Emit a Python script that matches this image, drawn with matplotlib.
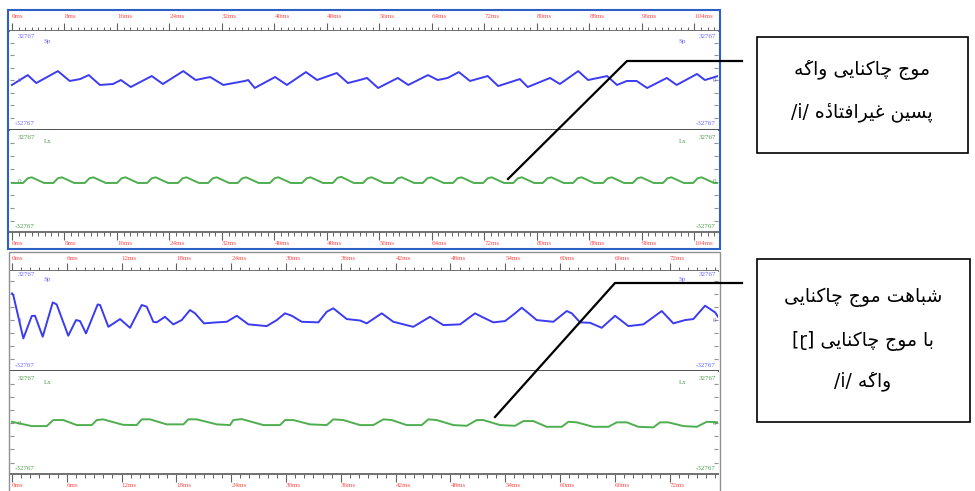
import matplotlib
matplotlib.use('Agg')
import matplotlib.pyplot as plt
from matplotlib import font_manager, ft2font
from matplotlib.patches import Rectangle
from matplotlib.transforms import blended_transform_factory

# ---- data ----
# top recording: 0..~107 ms
top_sp_t = [0.0, 2.4, 3.7, 7.0, 8.8, 10.4, 11.7, 13.4, 15.4, 16.6, 18.1, 21.3, 23.0, 26.1,
            28.0, 30.2, 32.2, 35.5, 36.0, 37.0, 40.1, 41.9, 44.8, 46.5, 49.5, 51.2, 53.0,
            54.1, 55.8, 58.8, 60.4, 63.4, 64.9, 66.4, 68.1, 69.8, 72.5, 74.1, 77.4, 78.6,
            82.0, 83.5, 86.3, 87.8, 90.7, 92.2, 93.7, 95.2, 96.8, 99.8, 101.3, 104.4, 105.6, 107.6]
top_sp_v = [-3600, 3600, -2200, 6500, -700, 700, 3600, -3600, -2900, 0, -5100, 2900, -2900, 6500,
            0, 2200, -3600, -700, 0, -5800, 2200, -3600, 5800, 0, 5100, -2200, 0,
            1500, -5800, 1500, -3600, 3600, 0, 1500, 5800, -700, 2900, -4400, 700, -5100,
            1500, -2900, 6500, 0, 2900, -3600, -700, -700, -5800, 1500, -3600, 4400, 0, 2900]

top_lx_t = [0.0,
            1.7, 2.4, 3.0, 4.9, 6.3, 7.0, 7.6, 9.5, 11.1, 11.8, 12.4, 14.3,
            16.0, 16.7, 17.3, 19.2, 20.6, 21.3, 21.9, 23.8, 25.3, 26.0, 26.6, 28.5,
            29.9, 30.6, 31.2, 33.1, 34.4, 35.1, 35.7, 37.6, 39.3, 40.0, 40.6, 42.5,
            44.2, 44.9, 45.5, 47.4, 48.9, 49.6, 50.2, 52.1, 53.5, 54.2, 54.8, 56.7,
            58.1, 58.8, 59.4, 61.3, 62.6, 63.3, 63.9, 65.8, 67.2, 67.9, 68.5, 70.4,
            71.8, 72.5, 73.1, 75.0, 76.4, 77.1, 77.7, 79.6, 80.9, 81.6, 82.2, 84.1,
            85.5, 86.2, 86.8, 88.7, 90.1, 90.8, 91.4, 93.3, 94.6, 95.3, 95.9, 97.8,
            99.2, 99.9, 100.5, 102.4, 103.8, 104.5, 105.1, 107.0,
            107.6]
top_lx_v = [-700,
            -700, 2600, 3300, -700, -700, 2600, 3300, -700, -700, 2600, 3300, -700,
            -700, 2600, 3300, -700, -700, 2600, 3300, -700, -700, 2600, 3300, -700,
            -700, 2600, 3300, -700, -700, 2600, 3300, -700, -700, 2600, 3300, -700,
            -700, 2600, 3300, -700, -700, 2900, 3600, -700, -700, 2600, 3300, -700,
            -700, 2600, 3300, -700, -700, 2600, 3300, -700, -700, 2600, 3300, -700,
            -700, 2600, 3300, -700, -700, 2600, 3300, -700, -700, 2600, 3300, -700,
            -700, 2600, 3300, -700, -700, 2600, 3300, -700, -700, 2600, 3300, -700,
            -700, 2600, 3300, -700, -700, 2600, 3300, -700,
            -700]

# bottom recording: 0..~77 ms
bot_sp_t = [0.0, 0.14, 0.69, 1.24, 2.16, 2.52, 3.36, 4.46, 4.89, 6.16, 7.01, 7.45, 8.10,
            9.38, 9.64, 10.55, 11.83, 12.92, 14.20, 14.75, 15.47, 15.84, 16.75, 17.66,
            18.58, 19.49, 20.04, 21.02, 22.42, 23.51, 24.61, 25.88, 27.89, 28.99, 29.89,
            30.63, 31.72, 33.54, 34.46, 35.18, 36.65, 38.11, 38.84, 40.48, 41.75, 43.94,
            45.77, 47.23, 49.06, 50.70, 51.43, 52.70, 53.98, 55.08, 55.81, 56.36, 57.45,
            59.27, 60.74, 61.29, 62.20, 63.29, 64.57, 66.03, 67.49, 69.13, 71.14, 72.41,
            73.69, 74.60, 75.88, 76.98, 77.3]
bot_sp_v = [18600, 17400, 2300, -12800, 2800, 3000, -11600, 12300, 10900, -10900, 0, -700, -9300,
            10900, 10500, -4700, 700, -5400, 10500, 9300, -1200, -1600, 2300, -3000,
            0, 7000, 4700, -2300, -1600, -1200, 3000, -3000, -4200, 0, 4700,
            3000, -1200, -1600, 5800, 8200, 700, -300, -2300, 4700, -1200, -4700,
            2300, -3500, -3000, 4700, 2300, -1600, -700, 4700, 8600, 5800, 0,
            -1200, 6300, 4700, -1600, -1900, -5400, 3000, -4200, -3000, 6300, -2300,
            0, 700, 10000, 5400, 2300]

bot_lx_t = [0.0, 2.16, 3.80, 4.52, 5.62, 7.08, 8.73, 9.27, 9.96, 12.15, 13.65, 14.20, 15.11,
            16.94, 18.76, 19.30, 20.22, 22.42, 23.87, 24.23, 25.15, 27.52, 29.35, 29.89,
            30.80, 32.63, 34.46, 35.18, 36.28, 38.11, 39.56, 40.66, 41.58, 43.22, 44.86,
            45.58, 46.50, 48.32, 49.79, 50.88, 51.61, 53.44, 55.08, 55.99, 57.08, 58.55,
            60.19, 60.92, 61.84, 63.65, 65.30, 66.22, 67.31, 68.58, 70.22, 70.96, 71.87,
            73.51, 74.98, 76.07, 77.3]
bot_lx_v = [1100, -1900, -1900, 2300, 2300, -1200, -1200, 2300, 2800, -1000, -1200, 2800, 2800,
            -700, -700, 2800, 2800, -700, -1200, 2300, 3000, -1200, -1200, 2300,
            2300, -700, -1200, 2800, 2300, -1200, -1200, 2800, 2300, -1200, -1200,
            2800, 2300, -1200, -1700, 2300, 2300, -1200, -1700, 1600, 1600, -2400,
            -2400, 1100, 700, -2400, -2400, 700, 700, -2400, -2800, 700, 700,
            -1900, -2400, 1100, 700]

top_ticks = list(range(0, 105, 8))
bot_ticks = list(range(0, 73, 6))

box1_lines = ['موج چاکنایی واکهٔ', 'پسین غیرافتادهٔ /i/']
box2_lines = ['شباهت موج چاکنایی', 'با موج چاکنایی [ɽ]', 'واکهٔ /i/']

FULL = 32767
BLUE = '#3b3bf2'
GREEN = '#4fae4f'
RED = '#ff4a4a'

# ---- simple Persian shaping (matplotlib has no complex text layout) ----
FORMS = {
    'ا': (0xFE8D, 0xFE8E, None, None), 'ب': (0xFE8F, 0xFE90, 0xFE91, 0xFE92),
    'پ': (0xFB56, 0xFB57, 0xFB58, 0xFB59), 'ت': (0xFE95, 0xFE96, 0xFE97, 0xFE98),
    'ج': (0xFE9D, 0xFE9E, 0xFE9F, 0xFEA0), 'چ': (0xFB7A, 0xFB7B, 0xFB7C, 0xFB7D),
    'د': (0xFEA9, 0xFEAA, None, None), 'ر': (0xFEAD, 0xFEAE, None, None),
    'س': (0xFEB1, 0xFEB2, 0xFEB3, 0xFEB4), 'ش': (0xFEB5, 0xFEB6, 0xFEB7, 0xFEB8),
    'غ': (0xFECD, 0xFECE, 0xFECF, 0xFED0), 'ف': (0xFED1, 0xFED2, 0xFED3, 0xFED4),
    'ک': (0xFB8E, 0xFB8F, 0xFB90, 0xFB91), 'م': (0xFEE1, 0xFEE2, 0xFEE3, 0xFEE4),
    'ن': (0xFEE5, 0xFEE6, 0xFEE7, 0xFEE8), 'ه': (0xFEE9, 0xFEEA, 0xFEEB, 0xFEEC),
    'و': (0xFEED, 0xFEEE, None, None), 'ی': (0xFBFC, 0xFBFD, 0xFBFE, 0xFBFF),
}
MARKS = {'\u0654'}

cmap = ft2font.FT2Font(font_manager.findfont('DejaVu Sans')).get_charmap()
HEH_HAMZA = {0xFEE9: 0xFBA4, 0xFEEA: 0xFBA5}


def shape_word(word):
    chars = list(word)
    clusters = []
    for i, c in enumerate(chars):
        if c in MARKS:
            continue
        if c not in FORMS:
            clusters.append([c])
            continue
        j = i - 1
        while j >= 0 and chars[j] in MARKS:
            j -= 1
        k = i + 1
        while k < len(chars) and chars[k] in MARKS:
            k += 1
        prev_j = j >= 0 and chars[j] in FORMS and FORMS[chars[j]][2] is not None
        next_j = FORMS[c][2] is not None and k < len(chars) and chars[k] in FORMS
        iso, fin, ini, med = FORMS[c]
        g = med if (prev_j and next_j) else fin if prev_j else ini if next_j else iso
        cl = [chr(g)]
        if i + 1 < len(chars) and chars[i + 1] in MARKS:
            if g in HEH_HAMZA and HEH_HAMZA[g] in cmap:
                cl = [chr(HEH_HAMZA[g])]
            else:
                cl.append(chars[i + 1])
        clusters.append(cl)
    return ''.join(''.join(cl) for cl in reversed(clusters))


def visual(line):
    out = []
    for tok in reversed(line.split(' ')):
        if any(ch in FORMS for ch in tok):
            out.append(shape_word(tok))
        else:
            out.append(tok)
    return ' '.join(out)


# ---- layout helpers (pixel boxes) ----
W, H = 975, 491
fig = plt.figure(figsize=(W / 100, H / 100), dpi=100)


def px(x0, y0, x1, y1):
    return [x0 / W, 1 - y1 / H, (x1 - x0) / W, (y1 - y0) / H]


def channel(rect, ylim, xlim, t, v, color, lab_color, name, sep=True):
    ax = fig.add_axes(px(*rect))
    ax.plot(t, v, color=color, lw=1.4, solid_joinstyle='round')
    ax.set_xlim(xlim)
    ax.set_ylim(ylim)
    ax.set_xticks([])
    ax.set_yticks([-27300, -18200, -9100, 0, 9100, 18200, 27300])
    ax.tick_params(axis='y', direction='in', length=3, width=0.8, colors='#909090',
                   left=True, right=True, labelleft=False)
    for s in ax.spines.values():
        s.set_visible(False)
    if sep:
        ax.spines['bottom'].set_visible(True)
        ax.spines['bottom'].set_color('#505050')
        ax.spines['bottom'].set_linewidth(1.4)
    tr = blended_transform_factory(ax.transAxes, ax.transData)
    kw = dict(transform=tr, color=lab_color, fontsize=5, family='Liberation Serif', va='center')
    ax.text(0.011, FULL * 0.96, '32767', ha='left', **kw)
    ax.text(0.006, -FULL * 0.96, '-32767', ha='left', **kw)
    ax.text(0.011, 0, '0', ha='left', **kw)
    ax.text(0.048, FULL * 0.86, name, ha='left', **kw)
    ax.text(0.997, FULL * 0.96, '32767', ha='right', **kw)
    ax.text(0.997, -FULL * 0.96, '-32767', ha='right', **kw)
    ax.text(0.997, 0, '0', ha='right', **kw)
    ax.text(0.955, FULL * 0.86, name, ha='right', **kw)
    return ax


def ruler(rect, xlim, ticks, step, side, label_y):
    ax = fig.add_axes(px(*rect))
    ax.set_xlim(xlim)
    ax.set_ylim(0, 1)
    ax.set_yticks([])
    ax.set_xticks(ticks)
    ax.set_xticks([m for m in range(0, int(xlim[1]) + 1) if m % step], minor=True)
    ax.tick_params(axis='x', which='both', direction='in', colors='#606060',
                   labelbottom=False, labeltop=False,
                   bottom=(side == 'bottom'), top=(side == 'top'))
    ax.tick_params(axis='x', which='major', length=5.5, width=0.8)
    ax.tick_params(axis='x', which='minor', length=3.0, width=0.7)
    for s in ax.spines.values():
        s.set_visible(False)
    ax.spines[side].set_visible(True)
    ax.spines[side].set_color('#707070')
    ax.spines[side].set_linewidth(1.4)
    tr = blended_transform_factory(ax.transData, ax.transAxes)
    for tk in ticks:
        ax.text(tk, label_y, f'{tk}ms', transform=tr, color=RED, fontsize=5,
                family='Liberation Serif', ha='left', va='center')
    return ax


top_xlim = (-0.3, 107.6)
bot_xlim = (-0.22, 77.3)

ruler((10, 11, 718, 31), top_xlim, top_ticks, 8, 'bottom', 0.7)
channel((10, 31, 718, 130), (-36400, 35700), top_xlim, top_sp_t, top_sp_v, BLUE, '#6464ff', 'Sp')
channel((10, 130, 718, 232), (-35200, 36600), top_xlim, top_lx_t, top_lx_v, GREEN, '#4c9c4c', 'Lx', sep=False)
ruler((10, 232, 718, 249), top_xlim, top_ticks, 8, 'top', 0.3)

ruler((10, 253, 718, 271), bot_xlim, bot_ticks, 6, 'bottom', 0.67)
channel((10, 271, 718, 371), (-35500, 34200), bot_xlim, bot_sp_t, bot_sp_v, BLUE, '#6464ff', 'Sp')
channel((10, 371, 718, 474), (-35300, 36500), bot_xlim, bot_lx_t, bot_lx_v, GREEN, '#4c9c4c', 'Lx', sep=False)
ruler((10, 474, 718, 491), bot_xlim, bot_ticks, 6, 'top', 0.3)

# ---- frames, callouts ----
ov = fig.add_axes([0, 0, 1, 1])
ov.set_xlim(0, W)
ov.set_ylim(H, 0)
ov.axis('off')
ov.patch.set_alpha(0)
ov.add_patch(Rectangle((8, 9.5), 712, 239.5, fill=False, ec='#2e5fc4', lw=1.5))
ov.add_patch(Rectangle((8.5, 251.5), 711.5, 240, fill=False, ec='#909090', lw=1.0))

ov.plot([508, 627, 742], [179, 61, 61], color='k', lw=1.6)
ov.plot([495, 615, 742], [417, 283, 283], color='k', lw=1.6)
ov.add_patch(Rectangle((757, 37), 211, 116, fill=False, ec='k', lw=1.2))
ov.add_patch(Rectangle((757, 259), 213, 163, fill=False, ec='k', lw=1.2))

for line, y in zip(box1_lines, [70, 112]):
    ov.text(862, y, visual(line), ha='center', va='center', fontsize=13.5, family='DejaVu Sans')
for line, y in zip(box2_lines, [297, 341, 381]):
    ov.text(863, y, visual(line), ha='center', va='center', fontsize=13.5, family='DejaVu Sans')

fig.savefig('out.png', dpi=100)
